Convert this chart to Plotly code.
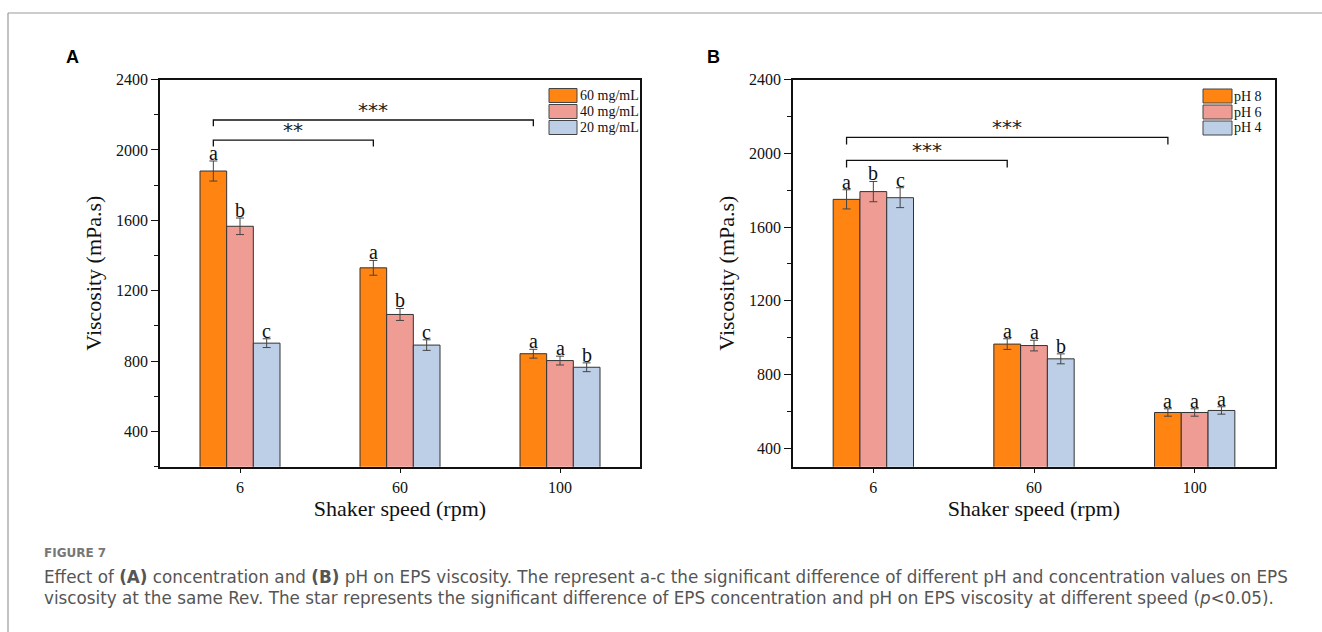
import plotly.graph_objects as go

W, H = 1322, 632

# ---------------- data ----------------
speeds = ["6", "60", "100"]

conc_names = ["60 mg/mL", "40 mg/mL", "20 mg/mL"]
conc_values = [
    [1880, 1330, 842],
    [1566, 1065, 803],
    [902, 891, 765],
]
conc_errors = [
    [57, 42, 25],
    [47, 34, 25],
    [25, 30, 25],
]
conc_letters = [
    ["a", "a", "a"],
    ["b", "b", "a"],
    ["c", "c", "b"],
]

ph_names = ["pH 8", "pH 6", "pH 4"]
ph_values = [
    [1750, 965, 594],
    [1792, 957, 594],
    [1759, 885, 605],
]
ph_errors = [
    [52, 29, 20],
    [55, 29, 20],
    [54, 27, 20],
]
ph_letters = [
    ["a", "a", "a"],
    ["b", "a", "a"],
    ["c", "b", "a"],
]

# significance brackets: (from group, to group, level, label)
brackets_A = [(0, 1, 2056, "**"), (0, 2, 2170, "***")]
brackets_B = [(0, 1, 1961, "***"), (0, 2, 2086, "***")]

colors = ["#FF8411", "#EF9C94", "#BDCFE7"]
SERIF = "Liberation Serif, Times New Roman, serif"

fig = go.Figure()

bar_w = 1 / 6.0
offsets = [-bar_w, 0.0, bar_w]
xs = list(range(len(speeds)))

annotations = []
shapes = []


def add_panel(names, values, errors, letters, brackets, xa, ya, drop):
    xref = "x" if xa == "x" else "x2"
    yref = "y" if ya == "y" else "y2"
    for k, name in enumerate(names):
        fig.add_trace(go.Bar(
            x=xs, y=values[k], name=name, xaxis=xa, yaxis=ya,
            marker=dict(color=colors[k], line=dict(color="#333333", width=1)),
            error_y=dict(type="data", array=errors[k], visible=True,
                         color="#444444", thickness=1, width=4),
            showlegend=False,
        ))
        for i in xs:
            annotations.append(dict(
                x=i + offsets[k], y=values[k][i] + errors[k][i], xref=xref, yref=yref,
                text=letters[k][i], showarrow=False, yanchor="bottom", yshift=-5,
                font=dict(family=SERIF, size=20, color="#111111"),
            ))
    for (g0, g1, lvl, lab) in brackets:
        x0 = g0 + offsets[0]
        x1 = g1 + offsets[0]
        fig.add_trace(go.Scatter(
            x=[x0, x0, x1, x1], y=[lvl - drop, lvl, lvl, lvl - drop],
            mode="lines", line=dict(color="#111111", width=1.3),
            xaxis=xa, yaxis=ya, showlegend=False, hoverinfo="skip",
        ))
        annotations.append(dict(
            x=(x0 + x1) / 2, y=lvl, xref=xref, yref=yref, text=lab,
            showarrow=False, yanchor="bottom", yshift=-4,
            font=dict(family="DejaVu Sans, sans-serif", size=20, color="#222222"),
        ))


add_panel(conc_names, conc_values, conc_errors, conc_letters, brackets_A, "x", "y", 36)
add_panel(ph_names, ph_values, ph_errors, ph_letters, brackets_B, "x2", "y2", 38)


def px(x):
    return x / W


def py(y):
    return 1 - y / H


# custom legends
def add_legend(names, box_x0, box_x1, text_x, rows):
    for k, name in enumerate(names):
        yc = rows[k]
        shapes.append(dict(type="rect", xref="paper", yref="paper",
                           x0=px(box_x0), x1=px(box_x1), y0=py(yc + 7), y1=py(yc - 7),
                           fillcolor=colors[k], line=dict(color="#444444", width=1)))
        annotations.append(dict(x=px(text_x), y=py(yc), xref="paper", yref="paper",
                                text=name, showarrow=False, xanchor="left", yanchor="middle",
                                font=dict(family=SERIF, size=14, color="#111111")))


add_legend(conc_names, 549, 577, 578, [95.5, 111.5, 127.5])
add_legend(ph_names, 1203, 1232, 1232, [96, 112, 128])

# panel letters
annotations.append(dict(x=px(64), y=py(57), xref="paper", yref="paper", text="<b>A</b>",
                        showarrow=False, xanchor="left", yanchor="middle",
                        font=dict(family="Liberation Sans, Arial", size=18, color="#000")))
annotations.append(dict(x=px(705), y=py(57), xref="paper", yref="paper", text="<b>B</b>",
                        showarrow=False, xanchor="left", yanchor="middle",
                        font=dict(family="Liberation Sans, Arial", size=18, color="#000")))

# caption
CAP = "DejaVu Sans, Open Sans, sans-serif"
annotations.append(dict(x=px(42), y=py(553), xref="paper", yref="paper", text="<b>FIGURE 7</b>",
                        showarrow=False, xanchor="left", yanchor="middle",
                        font=dict(family=CAP, size=12, color="#777777")))
annotations.append(dict(
    x=px(42), y=py(577), xref="paper", yref="paper",
    text="Effect of <b>(A)</b> concentration and <b>(B)</b> pH on EPS viscosity. The represent a-c the significant difference of different pH and concentration values on EPS",
    showarrow=False, xanchor="left", yanchor="middle",
    font=dict(family=CAP, size=16.8, color="#555555")))
annotations.append(dict(
    x=px(42), y=py(598), xref="paper", yref="paper",
    text="viscosity at the same Rev. The star represents the significant difference of EPS concentration and pH on EPS viscosity at different speed (<i>p</i>&lt;0.05).",
    showarrow=False, xanchor="left", yanchor="middle",
    font=dict(family=CAP, size=16.8, color="#555555")))

# outer frame (open on right/bottom)
shapes.append(dict(type="line", xref="paper", yref="paper", x0=px(8), x1=1, y0=py(13), y1=py(13),
                   line=dict(color="#9a9a9a", width=1.2)))
shapes.append(dict(type="line", xref="paper", yref="paper", x0=px(8), x1=px(8), y0=py(13), y1=0,
                   line=dict(color="#9a9a9a", width=1.2)))

ydom = [py(466.7), py(79.5)]

xaxis_common = dict(
    tickmode="array", tickvals=xs, ticktext=speeds, range=[-0.5, 2.5],
    showline=True, linecolor="#111111", linewidth=1.5, mirror=True,
    ticks="outside", ticklen=5, tickcolor="#111111", tickwidth=1.3,
    showgrid=False, zeroline=False, automargin=False,
    tickfont=dict(family=SERIF, size=16, color="#111111"),
    title=dict(text="Shaker speed (rpm)", font=dict(family=SERIF, size=22, color="#111111"), standoff=6),
)
yaxis_common = dict(
    showline=True, linecolor="#111111", linewidth=1.5, mirror=True,
    ticks="outside", ticklen=7, tickcolor="#111111", tickwidth=1.3,
    showgrid=False, zeroline=False, tick0=0, dtick=400, automargin=False,
    minor=dict(ticks="outside", ticklen=4, dtick=200, tickcolor="#111111", tickwidth=1.2),
    tickfont=dict(family=SERIF, size=16, color="#111111"),
    title=dict(text="Viscosity (mPa.s)", font=dict(family=SERIF, size=22, color="#111111"), standoff=8),
)

fig.update_layout(
    width=W, height=H,
    margin=dict(l=0, r=0, t=0, b=0, pad=0, autoexpand=False),
    paper_bgcolor="white", plot_bgcolor="white",
    barmode="group", bargap=0.5, bargroupgap=0,
    showlegend=False,
    xaxis=dict(domain=[px(160), px(640)], anchor="y", **xaxis_common),
    yaxis=dict(domain=ydom, anchor="x", range=[200, 2400], **yaxis_common),
    xaxis2=dict(domain=[px(793), px(1275)], anchor="y2", **xaxis_common),
    yaxis2=dict(domain=ydom, anchor="x2", range=[300, 2400], **yaxis_common),
    annotations=annotations,
    shapes=shapes,
)

fig.write_html("out.html", config={"displayModeBar": False},
               post_script="document.body.style.margin='0';document.body.style.overflow='hidden';")
